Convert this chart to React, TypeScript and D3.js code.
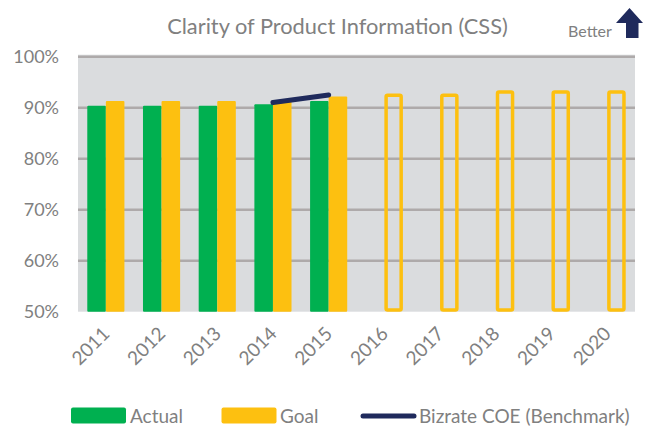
import * as d3 from 'd3'

const YEARS = ['2011', '2012', '2013', '2014', '2015', '2016', '2017', '2018', '2019', '2020']
const ACTUAL = [0.904, 0.904, 0.904, 0.907, 0.913]
const GOAL = [0.913, 0.913, 0.913, 0.915, 0.922, 0.928, 0.928, 0.934, 0.934, 0.934]
const BENCH_YEARS = ['2014', '2015']
const BENCH = [0.91, 0.925]
const Y_TICKS = [0.5, 0.6, 0.7, 0.8, 0.9, 1.0]

const W = 652
const H = 428
const GREEN = '#00b050'
const GOLD = '#fdc010'
const NAVY = '#1f2a5c'
const TEXT = '#808080'
const FONT = 'Lato, "Open Sans", sans-serif'

export default function App() {
  const plot = { left: 78, right: 635, top: 56.7, bottom: 311.7 }

  const x = d3.scaleBand<string>().domain(YEARS).range([plot.left, plot.right]).paddingInner(0).paddingOuter(0)
  const y = d3.scaleLinear().domain([0.5, 1.0]).range([plot.bottom, plot.top])
  const step = x.step()
  const bw = step / 3
  const cx = (yr: string) => (x(yr) ?? 0) + step / 2
  const pct = d3.format('.0%')

  const line = d3
    .line<number>()
    .x((_, i) => cx(BENCH_YEARS[i]))
    .y(d => y(d))

  const outlineW = 3.5

  return (
    <svg width={W} height={H} style={{ position: 'absolute', left: 0, top: 0 }} fontFamily={FONT}>
      <rect width={W} height={H} fill="#fff" />
      <text x={337.5} y={33.5} textAnchor="middle" fontSize={21.8} fill={TEXT}>
        Clarity of Product Information (CSS)
      </text>
      <text x={590} y={37} textAnchor="middle" fontSize={16} fill={TEXT}>
        Better
      </text>
      <path d="M629.5,8 L643,23 L638.5,23 L638.5,38 L626,38 L626,23 L616,23 Z" fill={NAVY} />

      <rect x={plot.left} y={plot.top - 2} width={plot.right - plot.left} height={plot.bottom - plot.top + 2} fill="#dadcde" />
      {Y_TICKS.filter(t => t > 0.5).map(t => (
        <line key={t} x1={plot.left} x2={plot.right} y1={y(t)} y2={y(t)} stroke="#aeaaaa" strokeWidth={2.5} />
      ))}
      {Y_TICKS.map(t => (
        <text key={t} x={59} y={y(t) + 6.5} textAnchor="end" fontSize={18} fill={TEXT}>
          {pct(t)}
        </text>
      ))}

      {ACTUAL.map((v, i) => (
        <rect key={'a' + i} x={cx(YEARS[i]) - bw} y={y(v)} width={bw} height={y(0.5) - y(v)} fill={GREEN} rx={1} />
      ))}
      {GOAL.map((v, i) =>
        i < ACTUAL.length ? (
          <rect key={'g' + i} x={cx(YEARS[i])} y={y(v)} width={bw} height={y(0.5) - y(v)} fill={GOLD} rx={1} />
        ) : (
          <rect
            key={'g' + i}
            x={cx(YEARS[i]) + outlineW / 2}
            y={y(v) + outlineW / 2}
            width={bw - outlineW}
            height={y(0.5) - y(v) - outlineW}
            fill="none"
            stroke={GOLD}
            strokeWidth={outlineW}
            rx={1.5}
          />
        )
      )}
      <path d={line(BENCH) ?? ''} fill="none" stroke={NAVY} strokeWidth={5} strokeLinecap="round" />

      {YEARS.map(yr => (
        <text
          key={yr}
          transform={`translate(${cx(yr) + 5},${335}) rotate(-45)`}
          textAnchor="end"
          fontSize={19}
          fill={TEXT}
        >
          {yr}
        </text>
      ))}

      <g fontSize={19} fill={TEXT}>
        <rect x={71} y={407.5} width={55} height={16} rx={2} fill={GREEN} />
        <text x={130} y={422.5}>Actual</text>
        <rect x={221.5} y={407.5} width={55} height={16} rx={2} fill={GOLD} />
        <text x={280} y={422.5}>Goal</text>
        <line x1={363} x2={414} y1={416} y2={416} stroke={NAVY} strokeWidth={5} strokeLinecap="round" />
        <text x={419} y={422.5}>Bizrate COE (Benchmark)</text>
      </g>
    </svg>
  )
}
